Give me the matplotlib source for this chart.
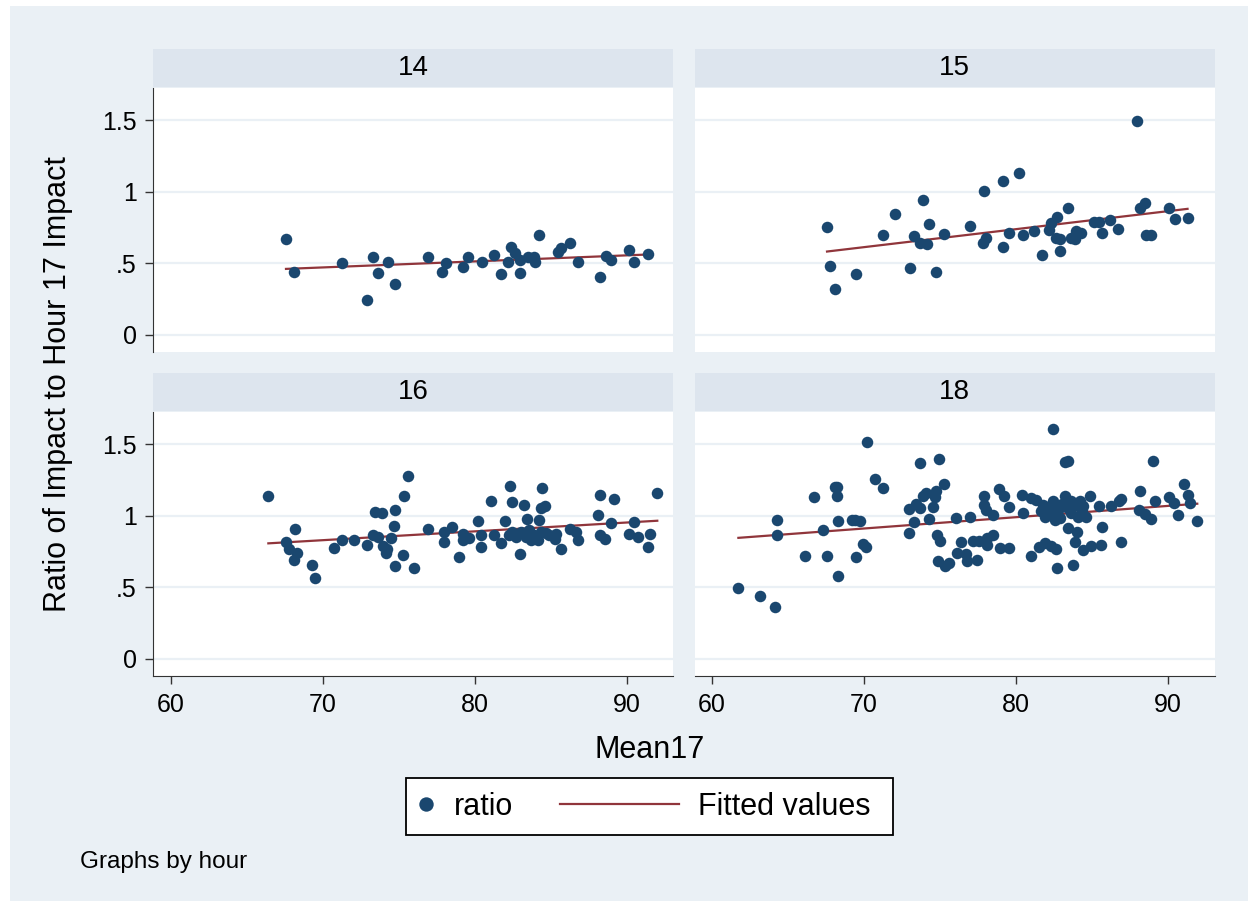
import matplotlib.pyplot as plt
import numpy as np
from matplotlib.patches import Rectangle

# ratio of impact vs Mean17, one panel per hour
hours = [14, 15, 16, 18]

x14 = [67.57, 68.07, 71.23, 72.93, 73.30, 73.64, 74.27, 74.75, 76.89, 77.86, 78.07, 79.20,
       79.55, 80.48, 81.25, 81.68, 82.18, 82.39, 82.61, 82.95, 82.95, 83.52, 83.89, 83.93,
       84.23, 85.45, 85.64, 86.25, 86.77, 88.25, 88.59, 88.95, 90.14, 90.43, 91.39]
y14 = [0.667, 0.442, 0.505, 0.240, 0.542, 0.430, 0.512, 0.353, 0.547, 0.442, 0.500, 0.477,
       0.544, 0.512, 0.558, 0.423, 0.512, 0.612, 0.570, 0.430, 0.523, 0.542, 0.542, 0.512,
       0.698, 0.581, 0.605, 0.644, 0.512, 0.407, 0.551, 0.523, 0.593, 0.512, 0.565]

x15 = [67.56, 67.77, 68.06, 69.46, 71.25, 72.00, 73.00, 73.27, 73.70, 73.90, 74.13, 74.24,
       74.74, 75.24, 76.93, 77.82, 78.00, 77.88, 79.15, 79.15, 79.54, 80.17, 80.42, 81.19,
       81.71, 82.14, 82.30, 82.66, 82.59, 82.91, 82.91, 83.39, 83.61, 83.84, 83.93, 84.27,
       85.15, 85.42, 85.65, 86.19, 86.69, 87.96, 88.14, 88.48, 88.55, 88.89, 90.07, 90.43,
       91.27]
y15 = [0.756, 0.481, 0.323, 0.428, 0.698, 0.847, 0.465, 0.691, 0.644, 0.944, 0.635, 0.772,
       0.437, 0.702, 0.758, 0.640, 0.674, 1.005, 0.616, 1.074, 0.714, 1.133, 0.698, 0.728,
       0.556, 0.733, 0.779, 0.821, 0.674, 0.667, 0.584, 0.886, 0.674, 0.667, 0.728, 0.709,
       0.791, 0.791, 0.712, 0.802, 0.742, 1.495, 0.884, 0.923, 0.698, 0.698, 0.888, 0.812,
       0.819]

x16 = [66.41, 67.57, 67.77, 68.18, 68.27, 68.07, 69.25, 69.48, 70.75, 71.23, 72.02, 72.93,
       73.27, 73.41, 73.86, 73.64, 73.95, 74.16, 74.23, 74.48, 74.68, 74.75, 74.75, 75.25,
       75.32, 75.61, 76.02, 76.89,
       77.95, 77.95, 78.50, 78.94, 79.23, 79.23, 79.60, 80.22, 80.42, 80.42, 81.03, 81.25,
       81.69, 81.95, 82.30, 82.46, 82.24, 82.46, 82.68, 82.94, 83.01, 83.23, 83.34, 83.45,
       83.56, 83.67, 83.89, 84.15, 84.22, 84.33, 84.38, 84.59, 84.33, 84.66, 84.88, 85.32,
       85.25, 85.65, 86.26, 86.64, 86.79, 88.07, 88.24, 88.24, 88.57, 88.95, 89.17, 90.16,
       90.45, 90.75, 91.37, 91.48, 91.99]
y16 = [1.134, 0.814, 0.765, 0.910, 0.737, 0.690, 0.653, 0.562, 0.774, 0.830, 0.828, 0.795,
       0.865, 1.029, 1.022, 0.854, 0.791, 0.737, 0.765, 0.844, 0.931, 1.038, 0.648, 0.723,
       1.134, 1.276, 0.632, 0.907,
       0.889, 0.819, 0.919, 0.710, 0.871, 0.831, 0.843, 0.966, 0.866, 0.780, 1.099, 0.866,
       0.808, 0.966, 1.204, 1.092, 0.866, 0.889, 0.854, 0.731, 0.889, 1.076, 0.854, 0.978,
       0.901, 0.831, 0.866, 0.831, 0.971, 1.052, 1.192, 1.064, 0.889, 0.877, 0.866, 0.871,
       0.838, 0.768, 0.906, 0.889, 0.831, 1.006, 1.141, 0.866, 0.836, 0.948, 1.118, 0.873,
       0.959, 0.850, 0.784, 0.873, 1.157]

x18 = [61.73, 63.13, 64.12, 64.25, 64.25, 66.09, 66.70, 67.27, 67.56, 68.11, 68.24, 68.19,
       68.26, 68.26, 69.20, 69.42, 69.72, 69.46, 69.92, 70.14, 70.16, 70.74, 71.22,
       72.93, 72.95, 73.27, 73.39, 73.67, 73.67, 73.87, 74.09, 74.24, 74.52, 74.63, 74.75,
       74.94, 75.23, 74.77, 74.96, 74.88, 75.29, 75.58, 76.02, 76.13, 76.34, 76.67, 76.76,
       76.94, 77.16, 77.42, 77.55, 77.88, 77.86, 78.04, 78.08, 78.08, 78.47, 78.47, 78.86,
       79.17, 78.96, 79.52, 79.52, 80.38, 80.44, 80.99, 80.99, 81.32, 81.49, 81.91, 82.09,
       82.57, 82.31, 81.76, 81.91, 82.41,
       82.39, 83.18, 83.40, 82.74, 82.85, 83.18, 83.40, 83.62, 83.84, 84.17, 84.39, 84.61,
       84.83, 84.06, 83.40, 84.02, 83.84, 84.39, 84.94, 85.60, 85.44, 85.64, 86.21, 86.74,
       86.91, 86.91, 82.67, 83.73, 82.61, 88.16, 88.07, 88.44, 88.88, 89.03, 89.16, 90.04,
       90.41, 90.63, 91.01, 91.29, 91.40, 91.91,
       81.60, 82.20, 83.00, 83.60, 84.30]
y18 = [0.497, 0.437, 0.362, 0.971, 0.866, 0.717, 1.127, 0.898, 0.721, 1.197, 1.202, 1.134,
       0.964, 0.581, 0.971, 0.968, 0.961, 0.710, 0.803, 0.784, 1.516, 1.255, 1.195,
       0.882, 1.045, 0.959, 1.083, 1.367, 1.052, 1.134, 1.157, 0.978, 1.059, 1.129, 1.169,
       1.397, 1.218, 0.866, 0.826, 0.686, 0.649, 0.672, 0.982, 0.738, 0.815, 0.733, 0.684,
       0.994, 0.824, 0.691, 0.824, 1.139, 1.076, 1.041, 0.847, 0.796, 0.866, 1.006, 1.188,
       1.139, 0.773, 0.773, 1.059, 1.146, 1.022, 0.719, 1.122, 1.111, 0.784, 0.808, 1.059,
       0.971, 0.789, 1.076, 0.994, 1.099,
       1.607, 1.374, 1.379, 1.041, 0.982, 1.134, 1.052, 1.017, 1.076, 1.099, 1.064, 0.994,
       1.139, 0.994, 0.912, 0.884, 0.819, 0.761, 0.789, 0.796, 1.069, 0.924, 1.064, 1.099,
       1.115, 0.819, 0.633, 0.656, 0.768, 1.174, 1.041, 1.013, 0.978, 1.381, 1.099, 1.129,
       1.087, 1.006, 1.220, 1.146, 1.087, 0.964,
       1.030, 1.020, 1.080, 1.100, 1.030]

xticks = [60, 70, 80, 90]
yticks = [0, 0.5, 1, 1.5]
ytick_labels = ['0', '.5', '1', '1.5']

navy = '#1a476f'
maroon = '#90353b'
bg = '#eaf0f5'
strip_col = '#dde5ee'
grid_col = '#eaf0f5'

plt.rcParams['font.family'] = 'Liberation Sans'

W, H = 1254, 907
fig = plt.figure(figsize=(W / 100, H / 100), dpi=100)
fig.patch.set_facecolor('white')


def box(x0, y0, x1, y1):
    # pixel box (top-left origin) -> figure fraction
    return [x0 / W, 1 - y1 / H, (x1 - x0) / W, (y1 - y0) / H]


fig.patches.append(Rectangle((10 / W, 1 - 901 / H), 1238 / W, 895 / H,
                             transform=fig.transFigure, facecolor=bg,
                             edgecolor='none', zorder=-10))

lefts = [153.4, 694.6]
tops = [88.3, 412.3]
pw, ph = 520, 263.7
data = [(x14, y14), (x15, y15), (x16, y16), (x18, y18)]

for i, hr in enumerate(hours):
    row, col = divmod(i, 2)
    x0, y0 = lefts[col], tops[row]
    xs, ys = np.array(data[i][0]), np.array(data[i][1])

    ax = fig.add_axes(box(x0, y0, x0 + pw, y0 + ph))
    ax.set_facecolor('white')
    ax.set_xlim(58.85, 93.05)
    ax.set_ylim(-0.12, 1.722)
    ax.set_yticks(yticks, labels=ytick_labels)
    ax.set_xticks(xticks)
    ax.yaxis.grid(True, color=grid_col, lw=1.6)
    ax.set_axisbelow(True)
    for s in ax.spines.values():
        s.set_visible(False)
    ax.tick_params(labelsize=18, color='#333333', width=1.0, length=6, pad=6)

    if col == 0:
        ax.spines['left'].set_visible(True)
        ax.spines['left'].set_color('#333333')
    else:
        ax.tick_params(axis='y', length=0, labelleft=False)
    if row == 1:
        ax.spines['bottom'].set_visible(True)
        ax.spines['bottom'].set_color('#333333')
    else:
        ax.tick_params(axis='x', length=0, labelbottom=False)

    pts, = ax.plot(xs, ys, 'o', color=navy, ms=8.3, mec=navy, mew=0,
                   label='ratio', zorder=3)
    slope, icpt = np.polyfit(xs, ys, 1)
    xf = np.array([xs.min(), xs.max()])
    fit, = ax.plot(xf, icpt + slope * xf, color=maroon, lw=1.6,
                   label='Fitted values', zorder=2)

    st = fig.add_axes(box(x0, y0 - 39, x0 + pw, y0 - 1))
    st.set_facecolor(strip_col)
    st.set_xticks([])
    st.set_yticks([])
    for s in st.spines.values():
        s.set_visible(False)
    st.text(0.5, 0.5, str(hr), ha='center', va='center', fontsize=20,
            transform=st.transAxes)

fig.text(58 / W, 1 - 384.5 / H, 'Ratio of Impact to Hour 17 Impact',
         rotation=90, ha='center', va='center', fontsize=22)
fig.text(649.6 / W, 1 - 750 / H, 'Mean17', ha='center', va='center', fontsize=22)
fig.text(80 / W, 1 - 862 / H, 'Graphs by hour', ha='left', va='center', fontsize=17.5)

# legend: white box with the two keys
fig.patches.append(Rectangle((405.7 / W, 1 - 835.3 / H), 487.6 / W, 57.6 / H,
                             transform=fig.transFigure, facecolor='white',
                             edgecolor='black', lw=1.3, zorder=5))
leg1 = fig.legend(handles=[pts], loc='center left', bbox_to_anchor=(411 / W, 1 - 806.7 / H),
                  frameon=False, fontsize=22, handlelength=1.0, handletextpad=0.4,
                  borderpad=0, borderaxespad=0, markerscale=1.25)
leg2 = fig.legend(handles=[fit], loc='center left', bbox_to_anchor=(560 / W, 1 - 806.7 / H),
                  frameon=False, fontsize=22, handlelength=3.9, handletextpad=0.6,
                  borderpad=0, borderaxespad=0)
leg1.set_zorder(6)
leg2.set_zorder(6)

fig.savefig('out.png', dpi=100, facecolor=fig.get_facecolor())
